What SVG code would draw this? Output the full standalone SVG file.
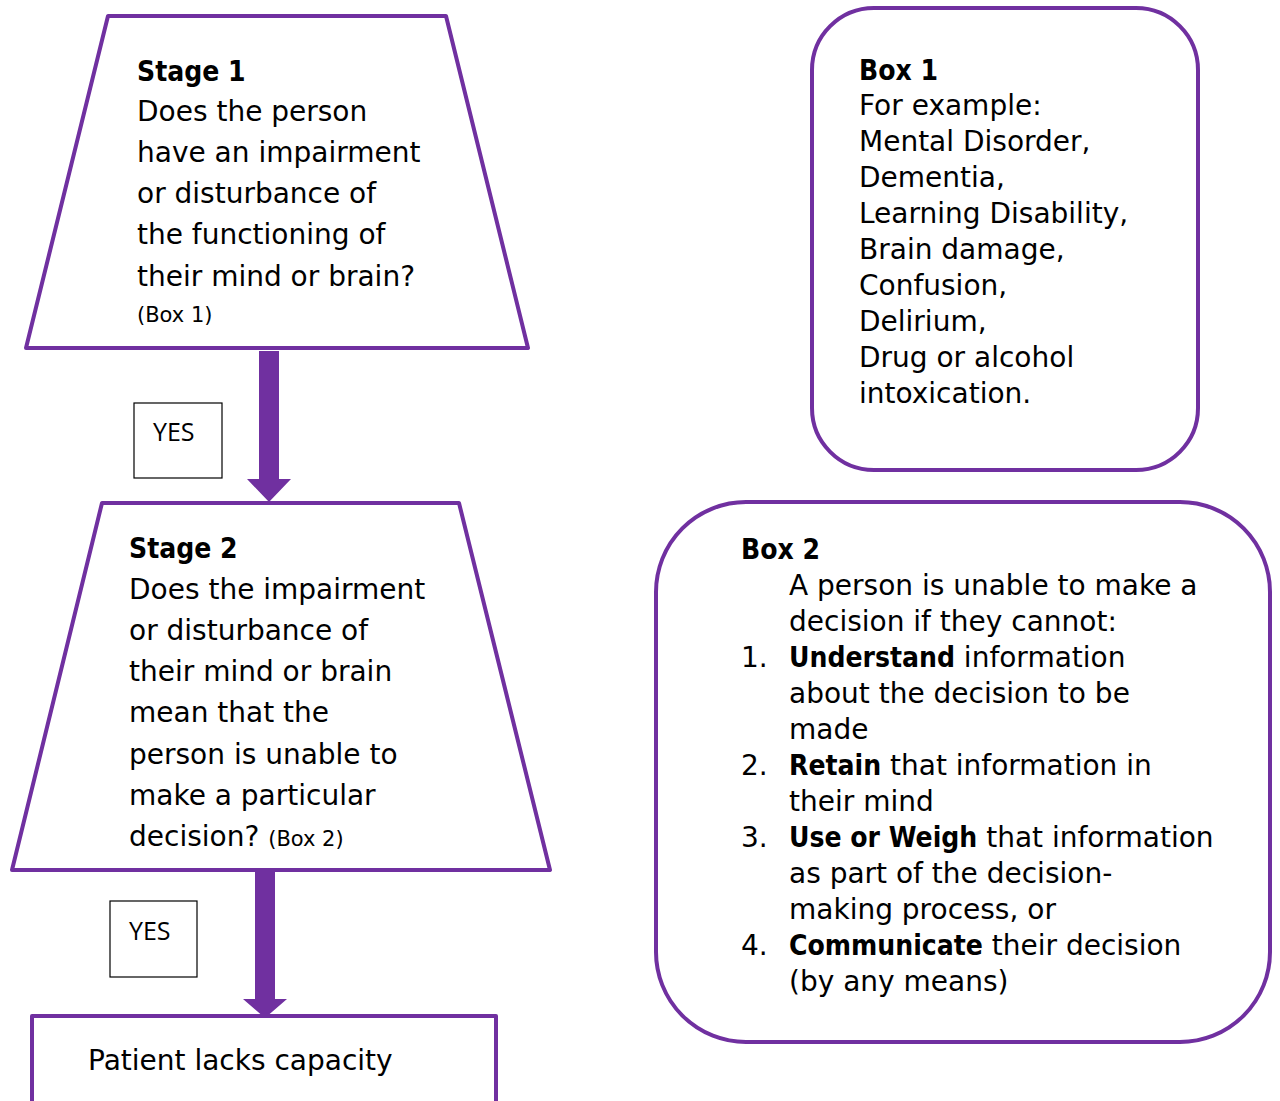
<svg xmlns="http://www.w3.org/2000/svg" width="1280" height="1101" viewBox="0 0 1280 1101">
<style>
.shape{fill:#fff;stroke:#7030A0;stroke-width:4;stroke-linejoin:round}
.t{font-family:"DejaVu Sans",sans-serif;font-size:28px;fill:#000}
.b{font-family:"DejaVu Sans Condensed","DejaVu Sans",sans-serif;font-weight:bold}
.s{font-size:21px}
.yes{fill:#fff;stroke:#000;stroke-width:1.2}
.yt{font-family:"Open Sans","Liberation Sans",sans-serif;font-size:25px;fill:#000}
.arrow{fill:#7030A0}
</style>
<rect width="1280" height="1101" fill="#fff"/>
<g id="connectors">
<polygon class="arrow" points="259,351 279,351 279,479 291,479 269,502 247,479 259,479"/>
<polygon class="arrow" points="255,872 275,872 275,999 287,999 265,1018 243,999 255,999"/>
</g>
<g id="stage1">
<polygon class="shape" points="108,16 446,16 528,348 26,348"/>
<text class="t b" x="137" y="81">Stage 1</text>
<text class="t" x="137" y="121">Does the person</text>
<text class="t" x="137" y="162">have an impairment</text>
<text class="t" x="137" y="203">or disturbance of</text>
<text class="t" x="137" y="244">the functioning of</text>
<text class="t" x="137" y="286">their mind or brain?</text>
<text class="t s" x="137" y="322">(Box 1)</text>
</g>
<g id="yes1">
<rect class="yes" x="134" y="403" width="88" height="75"/>
<text class="yt" x="153" y="441">YES</text>
</g>
<g id="stage2">
<polygon class="shape" points="102,503 459,503 550,870 12,870"/>
<text class="t b" x="129" y="558">Stage 2</text>
<text class="t" x="129" y="599">Does the impairment</text>
<text class="t" x="129" y="640">or disturbance of</text>
<text class="t" x="129" y="681">their mind or brain</text>
<text class="t" x="129" y="722">mean that the</text>
<text class="t" x="129" y="764">person is unable to</text>
<text class="t" x="129" y="805">make a particular</text>
<text class="t" x="129" y="846">decision? <tspan class="s">(Box 2)</tspan></text>
</g>
<g id="yes2">
<rect class="yes" x="110" y="901" width="87" height="76"/>
<text class="yt" x="129" y="940">YES</text>
</g>
<g id="outcome">
<rect class="shape" x="32" y="1016" width="464" height="100"/>
<text class="t" x="88" y="1070">Patient lacks capacity</text>
</g>
<g id="box1">
<rect class="shape" x="812" y="8" width="386" height="462" rx="62" ry="62"/>
<text class="t b" x="859" y="80">Box 1</text>
<text class="t" x="859" y="115">For example:</text>
<text class="t" x="859" y="151">Mental Disorder,</text>
<text class="t" x="859" y="187">Dementia,</text>
<text class="t" x="859" y="223">Learning Disability,</text>
<text class="t" x="859" y="259">Brain damage,</text>
<text class="t" x="859" y="295">Confusion,</text>
<text class="t" x="859" y="331">Delirium,</text>
<text class="t" x="859" y="367">Drug or alcohol</text>
<text class="t" x="859" y="403">intoxication.</text>
</g>
<g id="box2">
<rect class="shape" x="656" y="502" width="614" height="540" rx="90" ry="90"/>
<text class="t b" x="741" y="559">Box 2</text>
<text class="t" x="789" y="595">A person is unable to make a</text>
<text class="t" x="789" y="631">decision if they cannot:</text>
<text class="t" x="741" y="667">1.</text>
<text class="t" x="789" y="667"><tspan class="b">Understand</tspan> information</text>
<text class="t" x="789" y="703">about the decision to be</text>
<text class="t" x="789" y="739">made</text>
<text class="t" x="741" y="775">2.</text>
<text class="t" x="789" y="775"><tspan class="b">Retain</tspan> that information in</text>
<text class="t" x="789" y="811">their mind</text>
<text class="t" x="741" y="847">3.</text>
<text class="t" x="789" y="847"><tspan class="b">Use or Weigh</tspan> that information</text>
<text class="t" x="789" y="883">as part of the decision-</text>
<text class="t" x="789" y="919">making process, or</text>
<text class="t" x="741" y="955">4.</text>
<text class="t" x="789" y="955"><tspan class="b">Communicate</tspan> their decision</text>
<text class="t" x="789" y="991">(by any means)</text>
</g>
</svg>
